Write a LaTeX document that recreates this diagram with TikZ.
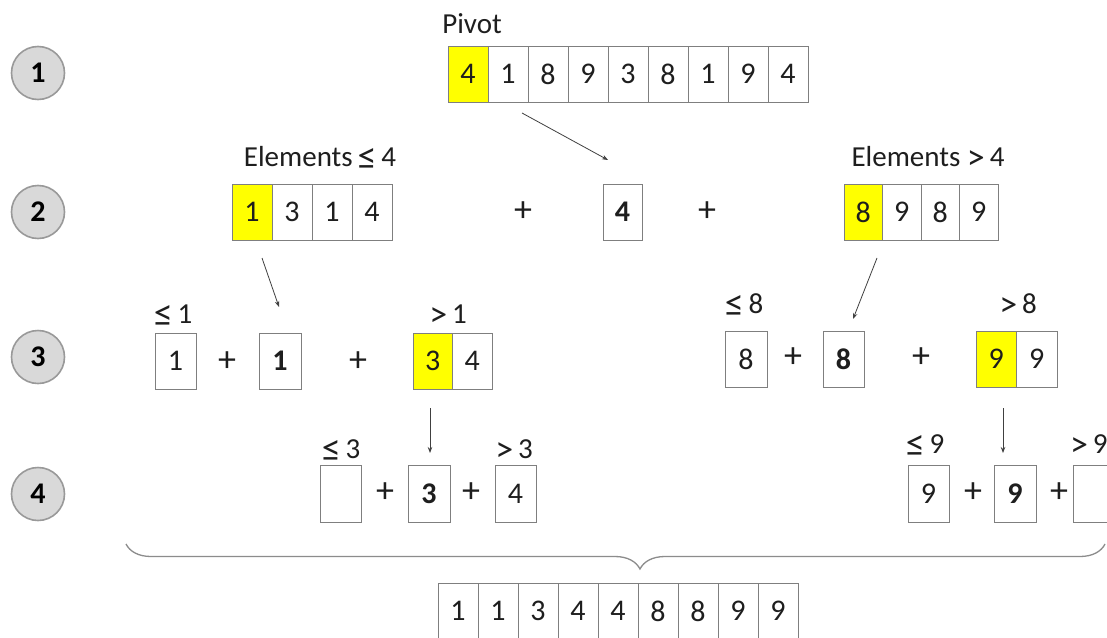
\documentclass[tikz,border=0pt]{standalone}
\usepackage{fontspec}
\setmainfont{Carlito}
\usetikzlibrary{arrows.meta,decorations.pathreplacing}
\definecolor{cellline}{HTML}{7F7F7F}
\definecolor{txt}{HTML}{1E1E1E}
\definecolor{pivfill}{HTML}{FFFF00}
\definecolor{circfill}{HTML}{D9D9D9}
\definecolor{circline}{HTML}{999999}
\definecolor{arrcol}{HTML}{404040}
\definecolor{bracecol}{HTML}{8C8C8C}
\newcommand{\leqsym}{\raisebox{-3.5pt}{\fontsize{38}{40}\selectfont ≤}}
\newcommand{\gtsym}{\raisebox{-3pt}{\fontsize{36}{40}\selectfont >}}
\tikzset{
  cell/.style={draw=cellline, line width=0.9pt, minimum width=40pt, minimum height=56pt, inner sep=0pt, text=txt, font=\fontsize{30}{34}\selectfont},
  ycell/.style={cell, fill=pivfill},
  bcell/.style={cell, font=\fontsize{30}{34}\selectfont\bfseries},
  stepnum/.style={circle, draw=circline, fill=circfill, line width=1.6pt, minimum size=53pt, inner sep=0pt, text=black, font=\fontsize{30}{32}\selectfont\bfseries},
  lbl/.style={anchor=base, text=txt, font=\fontsize{29}{33}\selectfont, inner sep=0pt},
  plus/.style={text=txt, font=\fontsize{36}{40}\selectfont, inner sep=0pt},
  arr/.style={draw=arrcol, line width=0.8pt, -{Stealth[length=6pt,width=4.5pt]}},
  bracestyle/.style={draw=bracecol, line width=1.3pt, decorate, decoration={brace, mirror, amplitude=25pt, aspect=0.525}},
}
\begin{document}
\begin{tikzpicture}[x=1pt, y=-1pt]
\useasboundingbox (0,0) rectangle (1107,637);
\fill[white] (0,0) rectangle (1107,637);
\clip (0,0) rectangle (1107,637);

% step circles
\node[stepnum] (s1) at (38,73) {1};
\node[stepnum] (s2) at (38,212) {2};
\node[stepnum] (s3) at (38,357) {3};
\node[stepnum] (s4) at (38,494) {4};

% row 1
\node[lbl] (pivlbl) at (472,33) {Pivot};
\node[ycell] (t0) at (468,74) {4};
\foreach \v [count=\i] in {1,8,9,3,8,1,9,4}
  \node[cell] (t\i) at (468+40*\i,74) {\v};

% row 2
\node[lbl] (lel) at (320,166) {Elements\,\leqsym\,4};
\node[ycell] (l0) at (252,212) {1};
\foreach \v [count=\i] in {3,1,4}
  \node[cell] (l\i) at (252+40*\i,212) {\v};
\node[plus] (p21) at (523,212) {+};
\node[bcell, minimum width=39pt] (piv2) at (622.5,212) {4};
\node[plus] (p22) at (707,212) {+};
\node[lbl] (gel) at (928,166) {Elements \gtsym\,4};
\node[ycell, minimum width=38.5pt] (r0) at (863.25,212) {8};
\foreach \v [count=\i] in {9,8,9}
  \node[cell, minimum width=38.5pt] (r\i) at (863.25+38.5*\i,212) {\v};

% row 3 left
\node[lbl] (le1) at (173,323) {\leqsym\,1};
\node[cell, minimum width=41pt] (a1) at (175.5,361) {1};
\node[plus] (p31) at (227,362) {+};
\node[bcell, minimum width=42pt] (a2) at (280,361) {1};
\node[plus] (p32) at (358,362) {+};
\node[lbl] (gt1) at (448,323) {\gtsym\,1};
\node[ycell, minimum width=39.5pt] (a3) at (432.75,361) {3};
\node[cell, minimum width=39.5pt] (a4) at (472.25,361) {4};

% row 3 right
\node[lbl] (le8) at (744,313) {\leqsym\,8};
\node[cell, minimum width=42pt] (b1) at (746,359) {8};
\node[plus] (p33) at (793,358) {+};
\node[bcell, minimum width=41pt] (b2) at (843.5,359) {8};
\node[plus] (p34) at (921,358) {+};
\node[lbl] (gt8) at (1018,313) {\gtsym\,8};
\node[ycell, minimum width=40.5pt] (b3) at (996.25,359) {9};
\node[cell, minimum width=40.5pt] (b4) at (1036.75,359) {9};

% row 4 left
\node[lbl] (le3) at (341,458) {\leqsym\,3};
\node[cell, minimum width=41pt, minimum height=57pt] (c1) at (340.5,493.5) {};
\node[plus] (p41) at (385,493) {+};
\node[bcell, minimum width=42pt, minimum height=57pt] (c2) at (429,493.5) {3};
\node[plus] (p42) at (471,493) {+};
\node[lbl] (gt3) at (514,458) {\gtsym\,3};
\node[cell, minimum width=41pt, minimum height=57pt] (c3) at (515.5,493.5) {4};

% row 4 right
\node[lbl] (le9) at (925,453) {\leqsym\,9};
\node[cell, minimum width=41pt, minimum height=57pt] (d1) at (928.5,493.5) {9};
\node[plus] (p43) at (973,493) {+};
\node[bcell, minimum width=42pt, minimum height=57pt] (d2) at (1015,493.5) {9};
\node[plus] (p44) at (1059,493) {+};
\node[lbl, anchor=base west] (gt9) at (1070,453) {\gtsym\,9};
\node[cell, minimum width=41pt, minimum height=57pt] (d3) at (1093.5,493.5) {};

% arrows
\coordinate (a1s) at (522,113);
\coordinate (a1e) at (608,160);
\coordinate (a2s) at (262,258);
\coordinate (a2e) at (279,307);
\coordinate (a3s) at (877,258);
\coordinate (a3e) at (853,319);
\coordinate (a4s) at (430,408);
\coordinate (a4e) at (430,453);
\coordinate (a5s) at (1003,408);
\coordinate (a5e) at (1003,453);
\draw[arr] (a1s) -- (a1e);
\draw[arr] (a2s) -- (a2e);
\draw[arr] (a3s) -- (a3e);
\draw[arr] (a4s) -- (a4e);
\draw[arr] (a5s) -- (a5e);

% brace
\coordinate (bl) at (126,544);
\coordinate (br) at (1105,544);
\draw[bracestyle] (bl) -- (br);

% result
\foreach \v [count=\i from 0] in {1,1,3,4,4,8,8,9,9}
  \node[cell] (f\i) at (458+40*\i,611) {\v};
\end{tikzpicture}
\end{document}
